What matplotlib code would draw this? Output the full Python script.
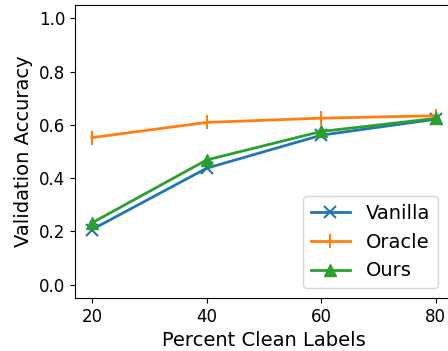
import numpy as np
import matplotlib.pyplot as plt

# Validation accuracy vs. fraction of clean labels
clean_pct = [20, 40, 60, 80]
vanilla = [0.207, 0.437, 0.561, 0.621]
oracle = [0.552, 0.609, 0.625, 0.634]
ours = [0.232, 0.468, 0.575, 0.624]

fig = plt.figure(figsize=(4.48, 3.51), dpi=100)
ax = fig.add_axes([0.167, 0.151, 1.011 - 0.167, 0.986 - 0.151])

ax.plot(clean_pct, vanilla, color='tab:blue', marker='x', markersize=8,
        markeredgewidth=1.5, linewidth=2, label='Vanilla')
ax.plot(clean_pct, oracle, color='tab:orange', marker='|', markersize=10,
        markeredgewidth=1.5, linewidth=2, label='Oracle')
ax.plot(clean_pct, ours, color='tab:green', marker='^', markersize=9,
        linewidth=2, label='Ours')

ax.set_xlim(17, 83)
ax.set_ylim(-0.05, 1.05)
ax.set_xticks(clean_pct)
ax.set_yticks(np.arange(0, 1.01, 0.2))
ax.tick_params(labelsize=12)
ax.set_xlabel('Percent Clean Labels', fontsize=14)
ax.set_ylabel('Validation Accuracy', fontsize=14)
ax.legend(fontsize=14, loc='lower right', bbox_to_anchor=(0.985, 0.0))

fig.savefig('out.png', dpi=100)
plt.close()
